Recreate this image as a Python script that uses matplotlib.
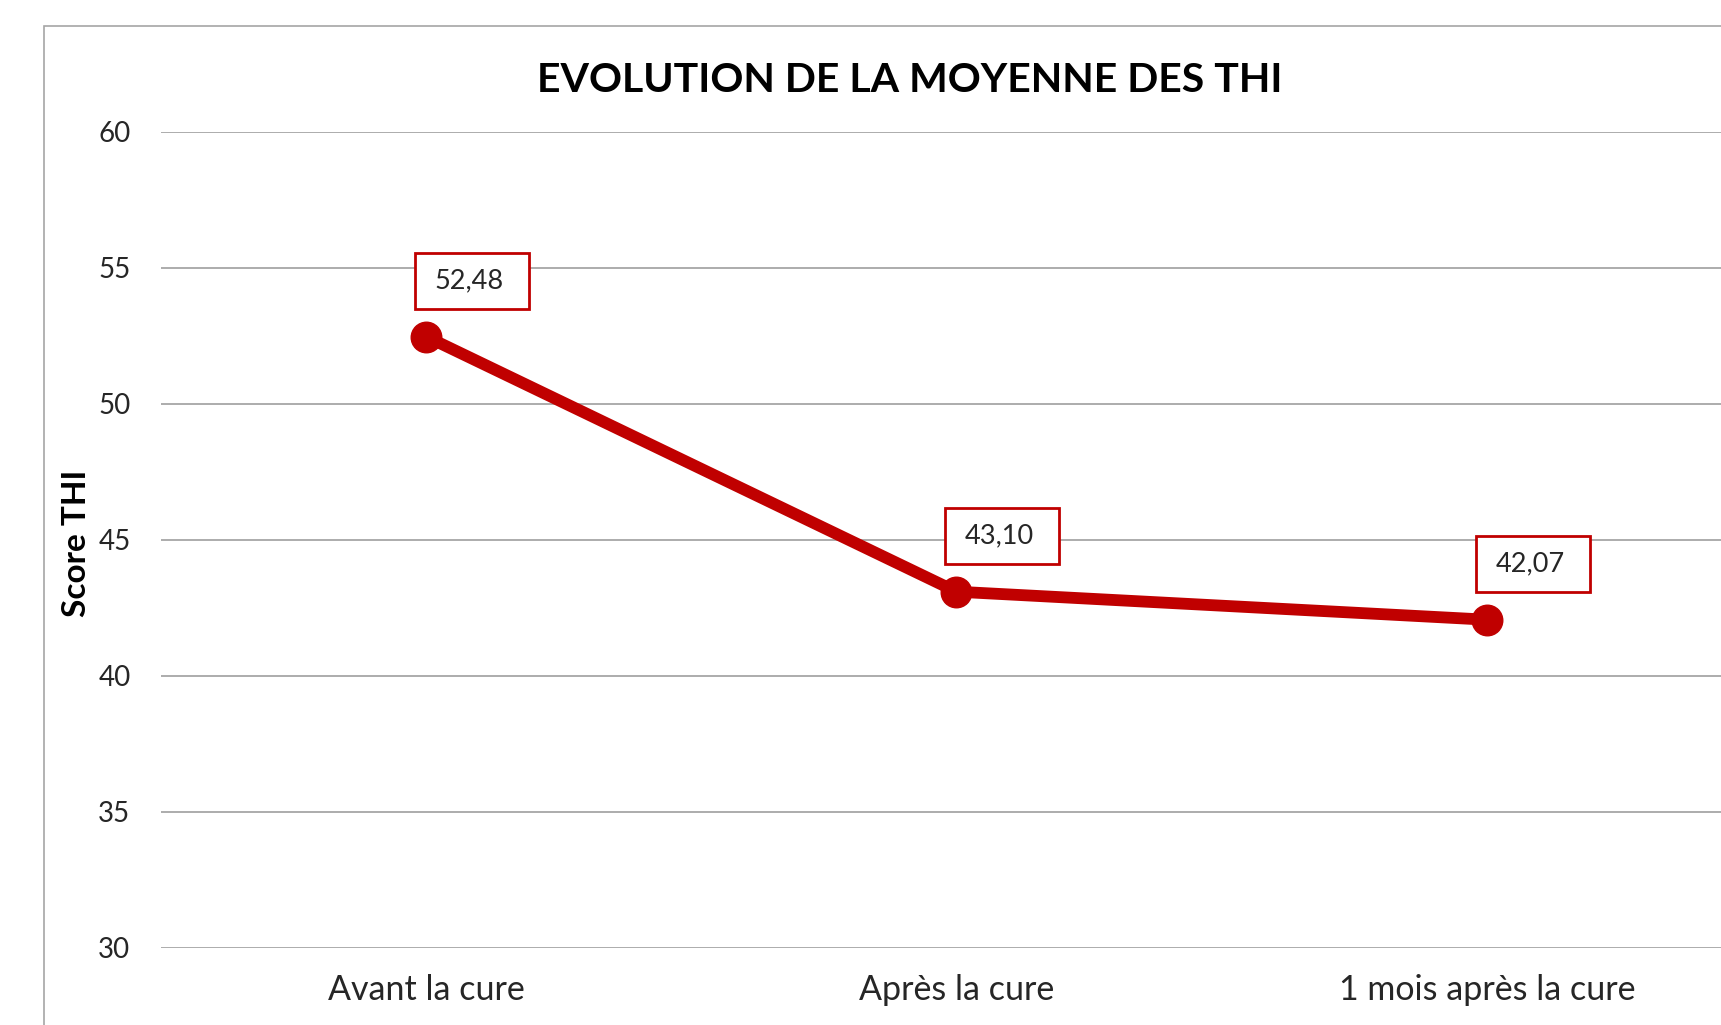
import matplotlib.pyplot as plt
import matplotlib.transforms as mtransforms
from matplotlib.patches import Rectangle

# données du graphique
categories = ['Avant la cure', 'Après la cure', '1 mois après la cure']
moyennes_thi = [52.48, 43.10, 42.07]
y_ticks = [30, 35, 40, 45, 50, 55, 60]

ROUGE = '#C00000'
GRIS = '#A6A6A6'

plt.rcParams['font.family'] = ['Lato', 'DejaVu Sans']

W, H, DPI = 1721, 1025, 100
fig = plt.figure(figsize=(W / DPI, H / DPI), dpi=DPI)

# cadre extérieur (zone du graphique, coupé à droite et en bas)
fig.patches.append(Rectangle((44 / W, -0.1), 1.2, 1 - 26 / H + 0.1, transform=fig.transFigure,
                             fill=False, edgecolor=GRIS, linewidth=1.2))

# zone de traçage
ax = fig.add_axes([161 / W, 1 - 948 / H, (1752 - 161) / W, (948 - 132) / H])
x = list(range(len(categories)))
ax.plot(x, moyennes_thi, color=ROUGE, linewidth=8.5, marker='o', markersize=22,
        solid_capstyle='round', zorder=3)

ax.set_xlim(-0.5, len(categories) - 0.5)
ax.set_ylim(min(y_ticks), max(y_ticks))
ax.set_yticks(y_ticks)
ax.set_xticks(x)
ax.set_xticklabels(categories, fontsize=24.5, color='#262626')
ax.tick_params(axis='y', labelsize=20, colors='#262626', length=0, pad=22)
ax.tick_params(axis='x', length=0, pad=19)
ax.grid(axis='y', color=GRIS, linewidth=1.3)
ax.set_axisbelow(True)
for spine in ax.spines.values():
    spine.set_visible(False)

ax.set_ylabel('Score THI', fontsize=24, fontweight='bold')
ax.yaxis.set_label_coords(-0.044, 0.496)

fig.text(910 / W, 1 - 80 / H, 'EVOLUTION DE LA MOYENNE DES THI', fontsize=29.5,
         fontweight='bold', ha='center', va='center')

# étiquettes de données encadrées
pt = fig.dpi / 72
for xi, v in zip(x, moyennes_thi):
    tr = mtransforms.Affine2D().scale(pt) + mtransforms.ScaledTranslation(xi, v, ax.transData)
    bw, bh = 82, 40
    cx, cy = 33, 40
    ax.add_patch(Rectangle((cx - bw / 2, cy - bh / 2), bw, bh, transform=tr,
                           facecolor='white', edgecolor=ROUGE, linewidth=2, zorder=4,
                           clip_on=False))
    ax.text(cx - 2, cy, f'{v:.2f}'.replace('.', ','), transform=tr, fontsize=19.5,
            ha='center', va='center', color='#262626', zorder=5)

fig.savefig('out.png', dpi=DPI)
